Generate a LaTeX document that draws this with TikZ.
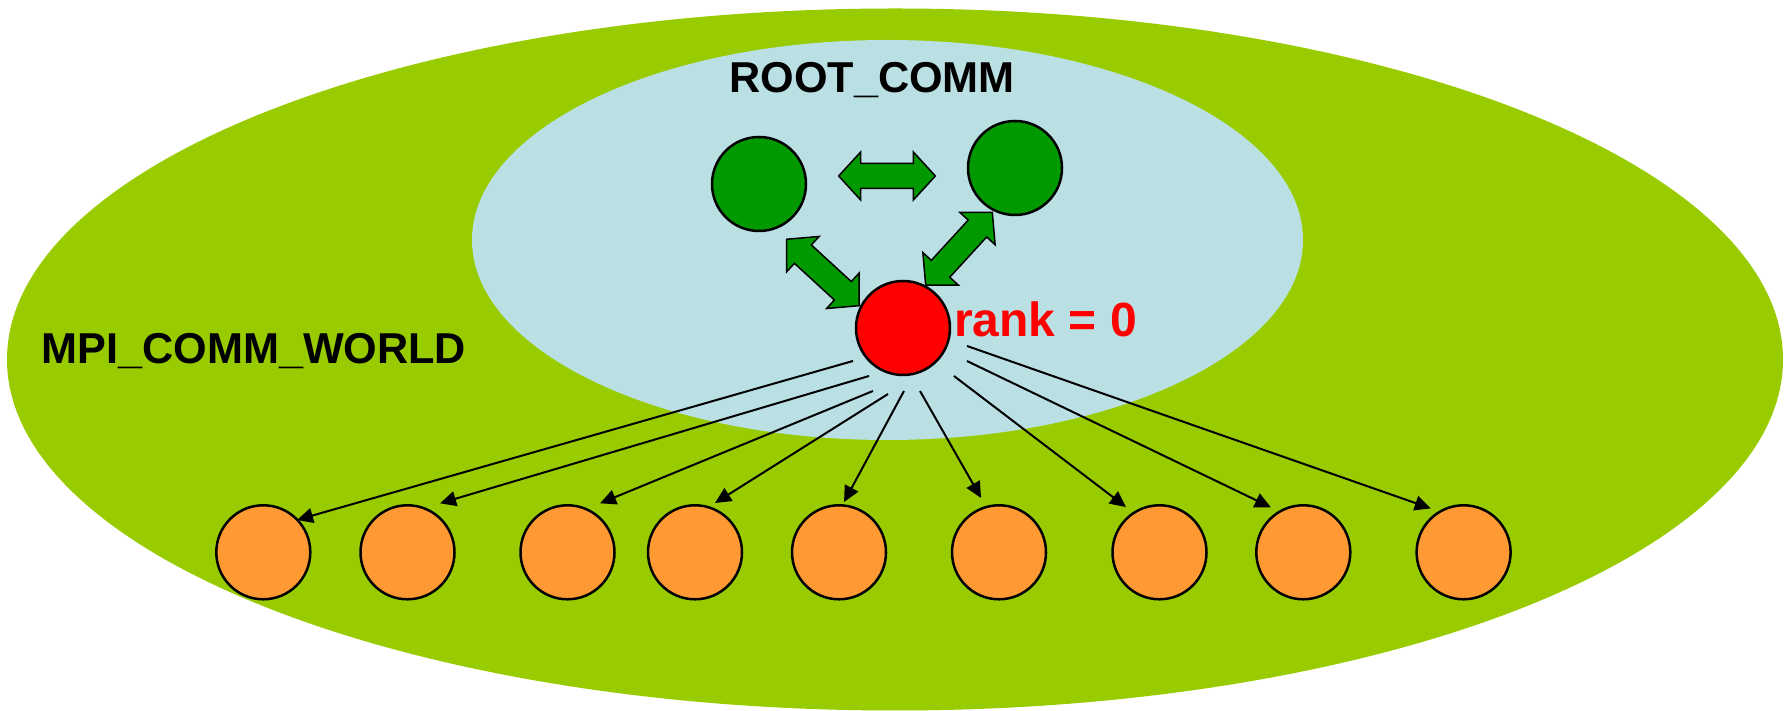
\documentclass[tikz,border=0pt]{standalone}
\usepackage{fontspec}
\setmainfont{Liberation Sans}
\usetikzlibrary{calc,arrows.meta}

\definecolor{worldgreen}{HTML}{99CC00}
\definecolor{rootblue}{HTML}{BAE0E4}
\definecolor{procgreen}{HTML}{009900}
\definecolor{workerorange}{HTML}{FF9933}
\definecolor{rankred}{HTML}{FF0000}

\pgfdeclarelayer{back}
\pgfdeclarelayer{mid}
\pgfsetlayers{back,mid,main}

% wide two-headed block arrow from tip #1 to tip #2
\newcommand\blockarrow[2]{%
  \draw[blockfill] let \p1=(#1), \p2=(#2), \n1={atan2(\y2-\y1,\x2-\x1)} in
    (\p1)
    -- ($(\p1)+(\n1:11pt)+(\n1+90:12pt)$)
    -- ($(\p1)+(\n1:11pt)+(\n1+90:6.25pt)$)
    -- ($(\p2)+(\n1+180:11pt)+(\n1+90:6.25pt)$)
    -- ($(\p2)+(\n1+180:11pt)+(\n1+90:12pt)$)
    -- (\p2)
    -- ($(\p2)+(\n1+180:11pt)+(\n1-90:12pt)$)
    -- ($(\p2)+(\n1+180:11pt)+(\n1-90:6.25pt)$)
    -- ($(\p1)+(\n1:11pt)+(\n1-90:6.25pt)$)
    -- ($(\p1)+(\n1:11pt)+(\n1-90:12pt)$)
    -- cycle;}

\begin{document}
\begin{tikzpicture}[x=0.5pt,y=0.5pt,
  proc/.style={circle,draw=black,line width=1.25pt,minimum size=47pt,inner sep=0pt,outer sep=0pt},
  blockfill/.style={fill=procgreen,draw=black,line width=0.75pt,line join=miter},
  msg/.style={line width=1pt,-{Triangle[length=8pt,width=7.5pt]}},
  title/.style={font=\fontsize{21.6pt}{24pt}\selectfont\bfseries,inner sep=0pt}]

\useasboundingbox (0,0) rectangle (1789,711);

% communicators
\begin{pgfonlayer}{back}
  \fill[worldgreen] (895,351.5) ellipse [x radius=444pt, y radius=175.5pt];
  \fill[rootblue] (887.5,471) ellipse [x radius=207.75pt, y radius=100pt];
\end{pgfonlayer}

\node[title,anchor=base west] (world) at (41,347) {MPI\_COMM\_WORLD};
\node[title,anchor=base] (rootc) at (872,618) {ROOT\_COMM};

% processes
\node[proc,fill=procgreen] (g1) at (759,527) {};
\node[proc,fill=procgreen] (g2) at (1015,543) {};
\node[proc,fill=rankred] (root) at (903,383) {};
\node[title,font=\fontsize{24pt}{27pt}\selectfont\bfseries,text=rankred,anchor=base west] (rank) at (953.6,374) {rank = 0};

\foreach \x [count=\i] in {263.3,407.5,567.5,695,839,999,1159.5,1303.3,1463.6}
  \node[proc,fill=workerorange] (w\i) at (\x,158.7) {};

% exchange among the root communicator
\coordinate (la) at ($(root)+(153.1:49.3)$);
\coordinate (lb) at ($(g1)+(-63.4:61.8)$);
\coordinate (ra) at ($(root)+(62.2:48.6)$);
\coordinate (rb) at ($(g2)+(242.9:49.8)$);
\coordinate (ha) at ($(g1)!.5!(g2)+(-48.35,0)$);
\coordinate (hb) at ($(g1)!.5!(g2)+(48.35,0)$);
\begin{pgfonlayer}{mid}
  \blockarrow{ha}{hb}
  \blockarrow{la}{lb}
  \blockarrow{ra}{rb}
\end{pgfonlayer}

% broadcast from rank 0 to the workers
\foreach \i/\sa/\sd/\ea/\ed in {1/213.4/59.9/43.8/46.7, 2/234.7/58.8/56.4/58.8,
    3/244.5/69.8/56.4/58.8, 4/257.2/67.7/67.9/53.2, 5/270.9/63/84.3/50.5,
    6/285.1/65.3/108.3/57.2, 7/316.7/70/126.5/56.3, 8/332.7/72/125.8/55.5,
    9/344.3/66.5/126.8/54.8}
  \draw[msg] ($(root)+(\sa:\sd)$) -- ($(w\i)+(\ea:\ed)$);

\end{tikzpicture}
\end{document}
